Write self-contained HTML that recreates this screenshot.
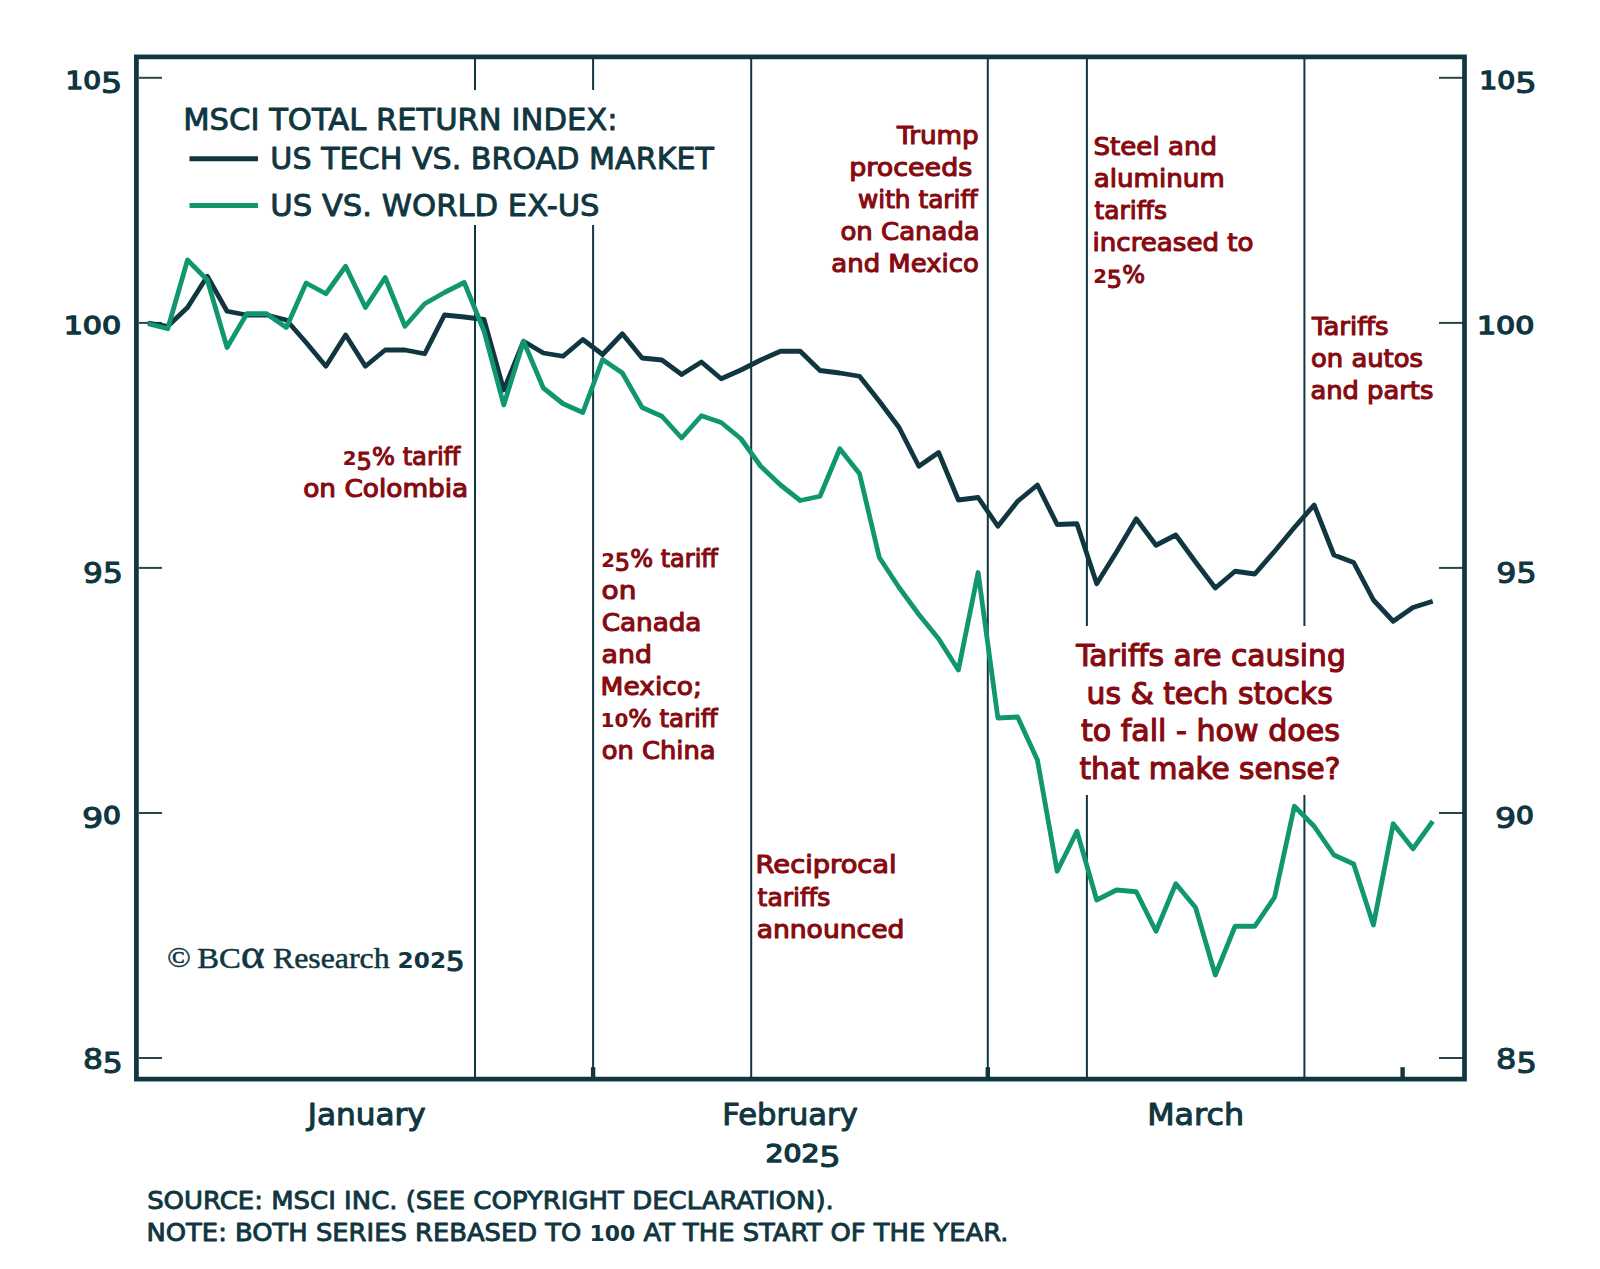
<!DOCTYPE html>
<html lang="en"><head><meta charset="utf-8"><title>MSCI Total Return Index chart</title>
<style>
html,body{margin:0;padding:0;background:#fff;}
body{width:1600px;height:1269px;overflow:hidden;}
svg{display:block;}
text{white-space:pre;}
</style></head><body>
<svg width="1600" height="1269" viewBox="0 0 1600 1269">
<rect width="1600" height="1269" fill="#ffffff"/>
<g id="geom">
<line x1="475.0" y1="58" x2="475.0" y2="90" stroke="#10363f" stroke-width="2"/>
<line x1="475.0" y1="225" x2="475.0" y2="1078" stroke="#10363f" stroke-width="2"/>
<line x1="593.1" y1="58" x2="593.1" y2="90" stroke="#10363f" stroke-width="2"/>
<line x1="593.1" y1="225" x2="593.1" y2="1078" stroke="#10363f" stroke-width="2"/>
<line x1="751.2" y1="58" x2="751.2" y2="1078" stroke="#10363f" stroke-width="2"/>
<line x1="987.8" y1="58" x2="987.8" y2="1078" stroke="#10363f" stroke-width="2"/>
<line x1="1086.9" y1="58" x2="1086.9" y2="626" stroke="#10363f" stroke-width="2"/>
<line x1="1086.9" y1="795" x2="1086.9" y2="1078" stroke="#10363f" stroke-width="2"/>
<line x1="1304.4" y1="58" x2="1304.4" y2="626" stroke="#10363f" stroke-width="2"/>
<line x1="1304.4" y1="795" x2="1304.4" y2="1078" stroke="#10363f" stroke-width="2"/>
<line x1="139" y1="77.8" x2="162" y2="77.8" stroke="#2c4349" stroke-width="2"/>
<line x1="1439" y1="77.8" x2="1463" y2="77.8" stroke="#2c4349" stroke-width="2"/>
<line x1="139" y1="322.9" x2="162" y2="322.9" stroke="#2c4349" stroke-width="2"/>
<line x1="1439" y1="322.9" x2="1463" y2="322.9" stroke="#2c4349" stroke-width="2"/>
<line x1="139" y1="567.9" x2="162" y2="567.9" stroke="#2c4349" stroke-width="2"/>
<line x1="1439" y1="567.9" x2="1463" y2="567.9" stroke="#2c4349" stroke-width="2"/>
<line x1="139" y1="813" x2="162" y2="813" stroke="#2c4349" stroke-width="2"/>
<line x1="1439" y1="813" x2="1463" y2="813" stroke="#2c4349" stroke-width="2"/>
<line x1="139" y1="1058" x2="162" y2="1058" stroke="#2c4349" stroke-width="2"/>
<line x1="1439" y1="1058" x2="1463" y2="1058" stroke="#2c4349" stroke-width="2"/>
<line x1="593.1" y1="1067.2" x2="593.1" y2="1077.5" stroke="#10363f" stroke-width="4.4"/>
<line x1="987.8" y1="1067.2" x2="987.8" y2="1077.5" stroke="#10363f" stroke-width="4.4"/>
<line x1="1402.6" y1="1067.2" x2="1402.6" y2="1077.5" stroke="#10363f" stroke-width="4.4"/>
<polyline points="148.00,323.00 167.76,326.25 187.53,307.50 207.30,276.25 227.06,311.25 246.82,315.00 266.59,315.00 286.36,320.00 306.12,342.50 325.88,366.25 345.65,335.00 365.42,366.25 385.18,350.00 404.94,350.00 424.71,353.75 444.48,315.00 464.24,317.00 484.00,319.50 503.77,390.00 523.54,341.25 543.30,353.00 563.07,356.25 582.83,339.50 602.60,354.50 622.36,333.75 642.12,358.00 661.89,360.00 681.65,374.50 701.42,362.00 721.19,378.75 740.95,370.00 760.72,360.00 780.48,351.25 800.25,351.25 820.01,370.50 839.77,373.00 859.54,376.25 879.31,401.25 899.07,427.50 918.84,466.25 938.60,452.50 958.37,500.00 978.13,497.50 997.89,526.25 1017.66,501.25 1037.43,485.00 1057.19,524.50 1076.95,523.75 1096.72,583.75 1116.49,552.00 1136.25,518.75 1156.01,545.25 1175.78,535.00 1195.55,562.00 1215.31,588.00 1235.08,571.25 1254.84,574.00 1274.61,551.25 1294.37,527.50 1314.13,505.00 1333.90,555.00 1353.66,562.50 1373.43,600.00 1393.19,621.25 1412.96,607.50 1432.73,601.25" fill="none" stroke="#10363f" stroke-width="4.8" stroke-linejoin="round" stroke-linecap="butt"/>
<polyline points="148.00,323.75 167.76,328.75 187.53,260.00 207.30,280.00 227.06,347.50 246.82,313.75 266.59,313.75 286.36,327.50 306.12,283.00 325.88,293.75 345.65,266.25 365.42,307.50 385.18,277.50 404.94,326.25 424.71,303.75 444.48,292.50 464.24,282.50 484.00,331.00 503.77,405.00 523.54,341.25 543.30,388.00 563.07,403.75 582.83,412.50 602.60,359.50 622.36,373.00 642.12,407.50 661.89,416.25 681.65,438.00 701.42,415.75 721.19,422.50 740.95,438.75 760.72,466.25 780.48,485.00 800.25,500.50 820.01,496.25 839.77,448.75 859.54,473.75 879.31,557.50 899.07,587.50 918.84,614.50 938.60,638.75 958.37,670.00 978.13,572.50 997.89,718.00 1017.66,717.00 1037.43,760.00 1057.19,871.25 1076.95,831.25 1096.72,900.00 1116.49,890.00 1136.25,891.75 1156.01,931.25 1175.78,883.75 1195.55,907.50 1215.31,975.00 1235.08,926.25 1254.84,926.25 1274.61,897.25 1294.37,806.25 1314.13,826.25 1333.90,855.00 1353.66,864.00 1373.43,925.00 1393.19,823.75 1412.96,848.75 1432.73,821.25" fill="none" stroke="#10976f" stroke-width="4.8" stroke-linejoin="round" stroke-linecap="butt"/>
<line x1="189.5" y1="158.75" x2="258" y2="158.75" stroke="#10363f" stroke-width="4.8"/>
<line x1="189.5" y1="205.5" x2="258" y2="205.5" stroke="#10976f" stroke-width="4.8"/>
<rect x="136.4" y="56.9" width="1328.1" height="1022.1999999999999" fill="none" stroke="#10363f" stroke-width="4.7"/>
</g>
<g id="labels">
<text id="t0" font-family='"DejaVu Sans", "Liberation Sans", sans-serif' font-size="29" fill="#10363f" stroke="#10363f" stroke-width="1.1" stroke-linejoin="round" x="65.42" y="88.6" textLength="56.83" lengthAdjust="spacingAndGlyphs"><tspan font-size="24.40" stroke-width="1.4">10</tspan><tspan dy="4.60">5</tspan></text>
<text id="t1" font-family='"DejaVu Sans", "Liberation Sans", sans-serif' font-size="29" fill="#10363f" stroke="#10363f" stroke-width="1.1" stroke-linejoin="round" x="63.75" y="333.6" textLength="57.38" lengthAdjust="spacingAndGlyphs"><tspan font-size="24.40" stroke-width="1.4">100</tspan></text>
<text id="t2" font-family='"DejaVu Sans", "Liberation Sans", sans-serif' font-size="29" fill="#10363f" stroke="#10363f" stroke-width="1.1" stroke-linejoin="round" x="83.06" y="578.6" textLength="39.70" lengthAdjust="spacingAndGlyphs"><tspan dy="4.60">95</tspan></text>
<text id="t3" font-family='"DejaVu Sans", "Liberation Sans", sans-serif' font-size="29" fill="#10363f" stroke="#10363f" stroke-width="1.1" stroke-linejoin="round" x="81.92" y="823.6" textLength="39.07" lengthAdjust="spacingAndGlyphs"><tspan dy="4.60">9</tspan><tspan dy="-4.60" font-size="24.40" stroke-width="1.4">0</tspan></text>
<text id="t4" font-family='"DejaVu Sans", "Liberation Sans", sans-serif' font-size="29" fill="#10363f" stroke="#10363f" stroke-width="1.1" stroke-linejoin="round" x="82.92" y="1068.6" textLength="39.84" lengthAdjust="spacingAndGlyphs">8<tspan dy="4.60">5</tspan></text>
<text id="t5" font-family='"DejaVu Sans", "Liberation Sans", sans-serif' font-size="29" fill="#10363f" stroke="#10363f" stroke-width="1.1" stroke-linejoin="round" x="1479.23" y="88.6" textLength="57.42" lengthAdjust="spacingAndGlyphs"><tspan font-size="24.40" stroke-width="1.4">10</tspan><tspan dy="4.60">5</tspan></text>
<text id="t6" font-family='"DejaVu Sans", "Liberation Sans", sans-serif' font-size="29" fill="#10363f" stroke="#10363f" stroke-width="1.1" stroke-linejoin="round" x="1476.98" y="333.6" textLength="57.41" lengthAdjust="spacingAndGlyphs"><tspan font-size="24.40" stroke-width="1.4">100</tspan></text>
<text id="t7" font-family='"DejaVu Sans", "Liberation Sans", sans-serif' font-size="29" fill="#10363f" stroke="#10363f" stroke-width="1.1" stroke-linejoin="round" x="1496.38" y="578.6" textLength="40.31" lengthAdjust="spacingAndGlyphs"><tspan dy="4.60">95</tspan></text>
<text id="t8" font-family='"DejaVu Sans", "Liberation Sans", sans-serif' font-size="29" fill="#10363f" stroke="#10363f" stroke-width="1.1" stroke-linejoin="round" x="1494.92" y="823.6" textLength="39.07" lengthAdjust="spacingAndGlyphs"><tspan dy="4.60">9</tspan><tspan dy="-4.60" font-size="24.40" stroke-width="1.4">0</tspan></text>
<text id="t9" font-family='"DejaVu Sans", "Liberation Sans", sans-serif' font-size="29" fill="#10363f" stroke="#10363f" stroke-width="1.1" stroke-linejoin="round" x="1496.14" y="1068.6" textLength="40.71" lengthAdjust="spacingAndGlyphs">8<tspan dy="4.60">5</tspan></text>
<text id="t10" font-family='"DejaVu Sans", "Liberation Sans", sans-serif' font-size="30.6" fill="#10363f" stroke="#10363f" stroke-width="1.05" stroke-linejoin="round" x="307.72" y="1124.8" textLength="117.97" lengthAdjust="spacingAndGlyphs">January</text>
<text id="t11" font-family='"DejaVu Sans", "Liberation Sans", sans-serif' font-size="30.6" fill="#10363f" stroke="#10363f" stroke-width="1.05" stroke-linejoin="round" x="722.33" y="1124.8" textLength="135.44" lengthAdjust="spacingAndGlyphs">February</text>
<text id="t12" font-family='"DejaVu Sans", "Liberation Sans", sans-serif' font-size="30.6" fill="#10363f" stroke="#10363f" stroke-width="1.05" stroke-linejoin="round" x="1147.19" y="1124.8" textLength="96.85" lengthAdjust="spacingAndGlyphs">March</text>
<text id="t13" font-family='"DejaVu Sans", "Liberation Sans", sans-serif' font-size="29" fill="#10363f" stroke="#10363f" stroke-width="1.1" stroke-linejoin="round" x="765.52" y="1162.2" textLength="75.21" lengthAdjust="spacingAndGlyphs"><tspan font-size="24.40" stroke-width="1.4">202</tspan><tspan dy="4.60">5</tspan></text>
<text id="t14" font-family='"DejaVu Sans", "Liberation Sans", sans-serif' font-size="24.6" fill="#10363f" stroke="#10363f" stroke-width="0.9" stroke-linejoin="round" x="147.16" y="1208.5" textLength="686.66" lengthAdjust="spacingAndGlyphs">SOURCE: MSCI INC. (SEE COPYRIGHT DECLARATION).</text>
<text id="t15" font-family='"DejaVu Sans", "Liberation Sans", sans-serif' font-size="24.6" fill="#10363f" stroke="#10363f" stroke-width="0.9" stroke-linejoin="round" x="146.52" y="1240.5" textLength="861.85" lengthAdjust="spacingAndGlyphs">NOTE: BOTH SERIES REBASED TO <tspan font-size="20.91" font-weight="bold" stroke-width="0">100</tspan> AT THE START OF THE YEAR.</text>
<text id="t16" font-family='"DejaVu Sans", "Liberation Sans", sans-serif' font-size="29.6" fill="#10363f" stroke="#10363f" stroke-width="0.9" stroke-linejoin="round" x="183.21" y="129.5" textLength="434.36" lengthAdjust="spacingAndGlyphs">MSCI TOTAL RETURN INDEX:</text>
<text id="t17" font-family='"DejaVu Sans", "Liberation Sans", sans-serif' font-size="29.6" fill="#10363f" stroke="#10363f" stroke-width="0.9" stroke-linejoin="round" x="270.35" y="169.4" textLength="443.60" lengthAdjust="spacingAndGlyphs">US TECH VS. BROAD MARKET</text>
<text id="t18" font-family='"DejaVu Sans", "Liberation Sans", sans-serif' font-size="29.6" fill="#10363f" stroke="#10363f" stroke-width="0.9" stroke-linejoin="round" x="270.3" y="216.3" textLength="329.27" lengthAdjust="spacingAndGlyphs">US VS. WORLD EX-US</text>
<text id="t19" font-family='"DejaVu Sans", "Liberation Sans", sans-serif' font-size="24.4" fill="#860a10" stroke="#860a10" stroke-width="1.1" stroke-linejoin="round" x="342.75" y="465.3" textLength="117.54" lengthAdjust="spacingAndGlyphs"><tspan font-size="20.01" font-weight="bold" stroke-width="0">2</tspan><tspan dy="4.39">5</tspan><tspan dy="-4.39">% tariff</tspan></text>
<text id="t20" font-family='"DejaVu Sans", "Liberation Sans", sans-serif' font-size="24.4" fill="#860a10" stroke="#860a10" stroke-width="1.1" stroke-linejoin="round" x="303.25" y="497.3" textLength="165.03" lengthAdjust="spacingAndGlyphs">on Colombia</text>
<text id="t21" font-family='"DejaVu Sans", "Liberation Sans", sans-serif' font-size="24.4" fill="#860a10" stroke="#860a10" stroke-width="1.1" stroke-linejoin="round" x="601.15" y="566.75" textLength="116.78" lengthAdjust="spacingAndGlyphs"><tspan font-size="20.01" font-weight="bold" stroke-width="0">2</tspan><tspan dy="4.39">5</tspan><tspan dy="-4.39">% tariff</tspan></text>
<text id="t22" font-family='"DejaVu Sans", "Liberation Sans", sans-serif' font-size="24.4" fill="#860a10" stroke="#860a10" stroke-width="1.1" stroke-linejoin="round" x="601.58" y="598.75" textLength="34.74" lengthAdjust="spacingAndGlyphs">on</text>
<text id="t23" font-family='"DejaVu Sans", "Liberation Sans", sans-serif' font-size="24.4" fill="#860a10" stroke="#860a10" stroke-width="1.1" stroke-linejoin="round" x="601.67" y="630.75" textLength="99.76" lengthAdjust="spacingAndGlyphs">Canada</text>
<text id="t24" font-family='"DejaVu Sans", "Liberation Sans", sans-serif' font-size="24.4" fill="#860a10" stroke="#860a10" stroke-width="1.1" stroke-linejoin="round" x="601.63" y="663" textLength="50.35" lengthAdjust="spacingAndGlyphs">and</text>
<text id="t25" font-family='"DejaVu Sans", "Liberation Sans", sans-serif' font-size="24.4" fill="#860a10" stroke="#860a10" stroke-width="1.1" stroke-linejoin="round" x="600.57" y="695" textLength="101.40" lengthAdjust="spacingAndGlyphs">Mexico;</text>
<text id="t26" font-family='"DejaVu Sans", "Liberation Sans", sans-serif' font-size="24.4" fill="#860a10" stroke="#860a10" stroke-width="1.1" stroke-linejoin="round" x="600.46" y="727" textLength="117.24" lengthAdjust="spacingAndGlyphs"><tspan font-size="20.01" font-weight="bold" stroke-width="0">10</tspan>% tariff</text>
<text id="t27" font-family='"DejaVu Sans", "Liberation Sans", sans-serif' font-size="24.4" fill="#860a10" stroke="#860a10" stroke-width="1.1" stroke-linejoin="round" x="601.67" y="758.75" textLength="113.86" lengthAdjust="spacingAndGlyphs">on China</text>
<text id="t28" font-family='"DejaVu Sans", "Liberation Sans", sans-serif' font-size="24.4" fill="#860a10" stroke="#860a10" stroke-width="1.1" stroke-linejoin="round" x="755.64" y="873.25" textLength="140.99" lengthAdjust="spacingAndGlyphs">Reciprocal</text>
<text id="t29" font-family='"DejaVu Sans", "Liberation Sans", sans-serif' font-size="24.4" fill="#860a10" stroke="#860a10" stroke-width="1.1" stroke-linejoin="round" x="757.63" y="905.5" textLength="72.70" lengthAdjust="spacingAndGlyphs">tariffs</text>
<text id="t30" font-family='"DejaVu Sans", "Liberation Sans", sans-serif' font-size="24.4" fill="#860a10" stroke="#860a10" stroke-width="1.1" stroke-linejoin="round" x="756.65" y="937.5" textLength="147.77" lengthAdjust="spacingAndGlyphs">announced</text>
<text id="t31" font-family='"DejaVu Sans", "Liberation Sans", sans-serif' font-size="24.4" fill="#860a10" stroke="#860a10" stroke-width="1.1" stroke-linejoin="round" x="897.0" y="143.5" textLength="81.73" lengthAdjust="spacingAndGlyphs">Trump</text>
<text id="t32" font-family='"DejaVu Sans", "Liberation Sans", sans-serif' font-size="24.4" fill="#860a10" stroke="#860a10" stroke-width="1.1" stroke-linejoin="round" x="849.31" y="175.6" textLength="122.91" lengthAdjust="spacingAndGlyphs">proceeds</text>
<text id="t33" font-family='"DejaVu Sans", "Liberation Sans", sans-serif' font-size="24.4" fill="#860a10" stroke="#860a10" stroke-width="1.1" stroke-linejoin="round" x="858.0" y="207.7" textLength="119.46" lengthAdjust="spacingAndGlyphs">with tariff</text>
<text id="t34" font-family='"DejaVu Sans", "Liberation Sans", sans-serif' font-size="24.4" fill="#860a10" stroke="#860a10" stroke-width="1.1" stroke-linejoin="round" x="840.51" y="239.9" textLength="139.24" lengthAdjust="spacingAndGlyphs">on Canada</text>
<text id="t35" font-family='"DejaVu Sans", "Liberation Sans", sans-serif' font-size="24.4" fill="#860a10" stroke="#860a10" stroke-width="1.1" stroke-linejoin="round" x="831.35" y="271.7" textLength="147.44" lengthAdjust="spacingAndGlyphs">and Mexico</text>
<text id="t36" font-family='"DejaVu Sans", "Liberation Sans", sans-serif' font-size="24.4" fill="#860a10" stroke="#860a10" stroke-width="1.1" stroke-linejoin="round" x="1093.54" y="154.8" textLength="123.43" lengthAdjust="spacingAndGlyphs">Steel and</text>
<text id="t37" font-family='"DejaVu Sans", "Liberation Sans", sans-serif' font-size="24.4" fill="#860a10" stroke="#860a10" stroke-width="1.1" stroke-linejoin="round" x="1093.66" y="186.9" textLength="131.12" lengthAdjust="spacingAndGlyphs">aluminum</text>
<text id="t38" font-family='"DejaVu Sans", "Liberation Sans", sans-serif' font-size="24.4" fill="#860a10" stroke="#860a10" stroke-width="1.1" stroke-linejoin="round" x="1094.62" y="219" textLength="72.25" lengthAdjust="spacingAndGlyphs">tariffs</text>
<text id="t39" font-family='"DejaVu Sans", "Liberation Sans", sans-serif' font-size="24.4" fill="#860a10" stroke="#860a10" stroke-width="1.1" stroke-linejoin="round" x="1092.62" y="251.1" textLength="160.81" lengthAdjust="spacingAndGlyphs">increased to</text>
<text id="t40" font-family='"DejaVu Sans", "Liberation Sans", sans-serif' font-size="24.4" fill="#860a10" stroke="#860a10" stroke-width="1.1" stroke-linejoin="round" x="1093.14" y="283.2" textLength="51.86" lengthAdjust="spacingAndGlyphs"><tspan font-size="20.01" font-weight="bold" stroke-width="0">2</tspan><tspan dy="4.39">5</tspan><tspan dy="-4.39">%</tspan></text>
<text id="t41" font-family='"DejaVu Sans", "Liberation Sans", sans-serif' font-size="24.4" fill="#860a10" stroke="#860a10" stroke-width="1.1" stroke-linejoin="round" x="1311.96" y="335.3" textLength="76.53" lengthAdjust="spacingAndGlyphs">Tariffs</text>
<text id="t42" font-family='"DejaVu Sans", "Liberation Sans", sans-serif' font-size="24.4" fill="#860a10" stroke="#860a10" stroke-width="1.1" stroke-linejoin="round" x="1311.08" y="367.4" textLength="111.85" lengthAdjust="spacingAndGlyphs">on autos</text>
<text id="t43" font-family='"DejaVu Sans", "Liberation Sans", sans-serif' font-size="24.4" fill="#860a10" stroke="#860a10" stroke-width="1.1" stroke-linejoin="round" x="1310.4" y="399.3" textLength="123.01" lengthAdjust="spacingAndGlyphs">and parts</text>
<text id="t44" font-family='"DejaVu Sans", "Liberation Sans", sans-serif' font-size="31" fill="#860a10" stroke="#860a10" stroke-width="1.2" stroke-linejoin="round" x="1076.14" y="666.3" textLength="269.64" lengthAdjust="spacingAndGlyphs">Tariffs are causing</text>
<text id="t45" font-family='"DejaVu Sans", "Liberation Sans", sans-serif' font-size="31" fill="#860a10" stroke="#860a10" stroke-width="1.2" stroke-linejoin="round" x="1086.51" y="703.8" textLength="246.19" lengthAdjust="spacingAndGlyphs">us &amp; tech stocks</text>
<text id="t46" font-family='"DejaVu Sans", "Liberation Sans", sans-serif' font-size="31" fill="#860a10" stroke="#860a10" stroke-width="1.2" stroke-linejoin="round" x="1080.93" y="741.3" textLength="258.93" lengthAdjust="spacingAndGlyphs">to fall - how does</text>
<text id="t47" font-family='"DejaVu Sans", "Liberation Sans", sans-serif' font-size="31" fill="#860a10" stroke="#860a10" stroke-width="1.2" stroke-linejoin="round" x="1079.53" y="778.8" textLength="260.90" lengthAdjust="spacingAndGlyphs">that make sense?</text>
<text id="t48" font-family='"Liberation Serif", serif' font-size="27" fill="#10363f" stroke="#10363f" stroke-width="0.5" stroke-linejoin="round" x="167.25" y="967" textLength="23.42" lengthAdjust="spacingAndGlyphs">©</text>
<text font-family='"Liberation Serif", serif' font-size="30" fill="#10363f" stroke="#10363f" stroke-width="0.5" x="197.2" y="967.5" textLength="67.6" lengthAdjust="spacingAndGlyphs">BC<tspan font-size="42">α</tspan></text>
<text id="t49" font-family='"Liberation Serif", serif' font-size="30" fill="#10363f" stroke="#10363f" stroke-width="0.5" stroke-linejoin="round" x="273.02" y="967.5" textLength="116.56" lengthAdjust="spacingAndGlyphs">Research</text>
<text id="t50" font-family='"DejaVu Sans", "Liberation Sans", sans-serif' font-size="26.5" fill="#10363f" stroke="#10363f" stroke-width="1.2" stroke-linejoin="round" x="397.61" y="967.5" textLength="66.95" lengthAdjust="spacingAndGlyphs"><tspan font-size="21.20" font-weight="bold" stroke-width="0">202</tspan><tspan dy="3.97">5</tspan></text>
</g>
</svg>
</body></html>
